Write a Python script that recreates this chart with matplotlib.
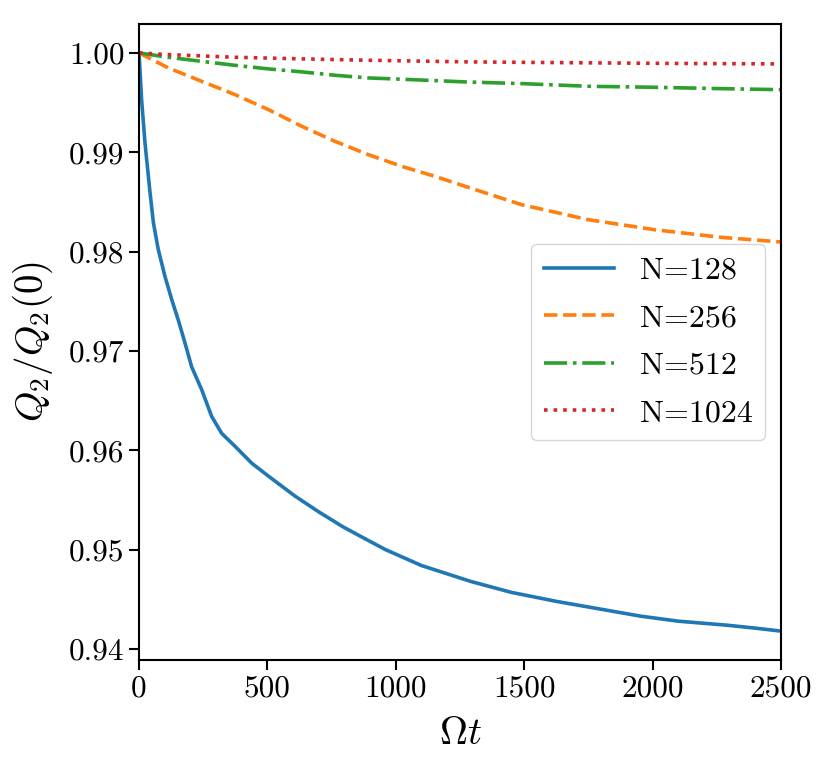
import matplotlib
matplotlib.use("Agg")
import matplotlib.pyplot as plt

plt.rcParams['font.family'] = 'serif'
plt.rcParams['font.serif'] = ['cmr10', 'DejaVu Serif']
plt.rcParams['mathtext.fontset'] = 'cm'
plt.rcParams['axes.formatter.use_mathtext'] = True

# Data
t128 = [0, 10, 23, 43, 56, 75, 101, 127, 153, 179, 205, 244, 283, 322, 374, 439, 504, 607,
        700, 794, 880, 960, 1100, 1292, 1450, 1624, 1800, 1955, 2100, 2288, 2400, 2500]
q128 = [1.0, 0.9953, 0.9910, 0.9859, 0.9829, 0.9802, 0.9775, 0.9752, 0.9731, 0.9708,
        0.9684, 0.9661, 0.9634, 0.9617, 0.9604, 0.9587, 0.9574, 0.9554, 0.9538, 0.9523, 0.9511,
        0.9500, 0.9484, 0.9468, 0.9457, 0.9448, 0.9440, 0.9433, 0.9428, 0.9424, 0.9421, 0.9418]

t256 = [0, 114, 244, 374, 504, 634, 763, 893, 1023, 1153, 1270, 1490, 1750, 2009, 2269, 2500]
q256 = [1.0, 0.99849, 0.99714, 0.9958, 0.99429, 0.99261, 0.9911, 0.98976, 0.98858, 0.98757,
        0.98657, 0.98472, 0.98321, 0.9822, 0.98143, 0.98097]

t512 = [0, 114, 244, 374, 504, 634, 763, 893, 1023, 1153, 1270, 1490, 1750, 2009, 2269, 2500]
q512 = [1.0, 0.99956, 0.99915, 0.99875, 0.99839, 0.99809, 0.99775, 0.99748, 0.99735, 0.99721,
        0.99708, 0.99691, 0.99664, 0.99654, 0.9964, 0.9963]

t1024 = [0, 114, 374, 634, 893, 1270, 1490, 2009, 2500]
q1024 = [1.0, 0.99983, 0.99956, 0.9994, 0.99926, 0.9991, 0.99905, 0.99895, 0.99889]

labels = ['N=128', 'N=256', 'N=512', 'N=1024']
colors = ['#1f77b4', '#ff7f0e', '#2ca02c', '#d62728']
styles = ['-', '--', '-.', ':']

fig = plt.figure(figsize=(8.3, 7.69), dpi=100)
ax = fig.add_axes([0.1675, 0.1417, 0.7735, 0.8271])

series = [(t128, q128), (t256, q256), (t512, q512), (t1024, q1024)]
for (t, q), lab, c, ls in zip(series, labels, colors, styles):
    ax.plot(t, q, color=c, linestyle=ls, linewidth=2.6, label=lab)

ax.set_xlim(0, 2500)
ax.set_yticks([0.94, 0.95, 0.96, 0.97, 0.98, 0.99, 1.00])
ax.set_yticklabels(['0.94', '0.95', '0.96', '0.97', '0.98', '0.99', '1.00'])
ax.set_xticks([0, 500, 1000, 1500, 2000, 2500])
ax.set_xticklabels(['0', '500', '1000', '1500', '2000', '2500'])
ax.tick_params(labelsize=22.5, width=1.5, length=7)
for s in ax.spines.values():
    s.set_linewidth(1.5)

ax.set_xlabel(r'$\Omega t$', fontsize=28, labelpad=10)
ax.set_ylabel(r'$Q_2/Q_2(0)$', fontsize=28)
ax.yaxis.set_label_coords(-0.131, 0.5)

leg = ax.legend(loc='center right', fontsize=23, handlelength=2.2, labelspacing=0.6,
                borderaxespad=0.5, framealpha=0.8, fancybox=True)

fig.savefig('out.png', dpi=100)
